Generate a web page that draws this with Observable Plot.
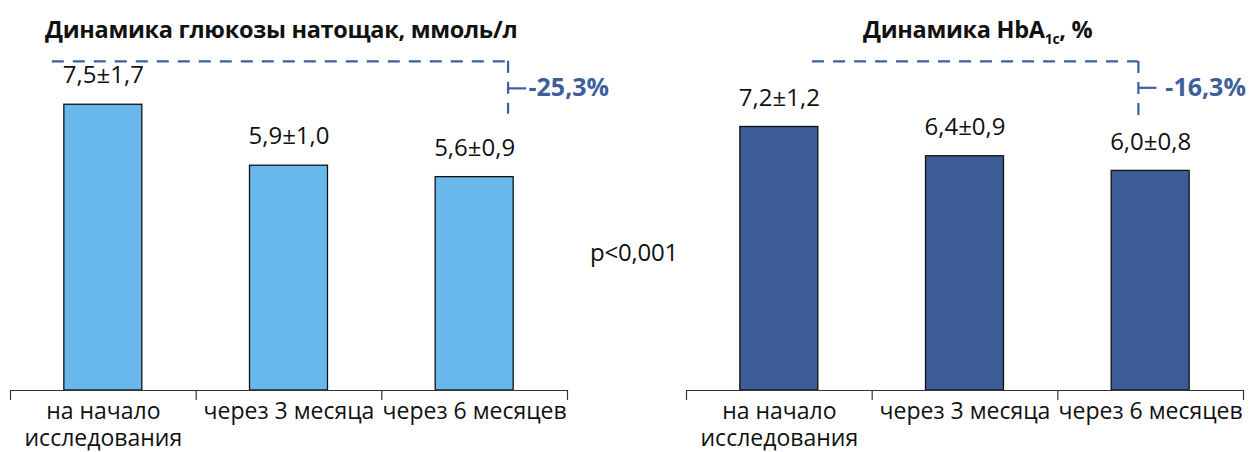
<!DOCTYPE html>
<html>
<head>
<meta charset="utf-8">
<script src="https://cdn.jsdelivr.net/npm/d3@7"></script>
<script src="https://cdn.jsdelivr.net/npm/@observablehq/plot@0.6"></script>
<style>
  html, body { margin: 0; padding: 0; background: #fff; }
  body { width: 1250px; height: 452px; position: relative; overflow: hidden; font-family: "Open Sans", "Noto Sans", sans-serif; color: #111; }
  .panel { position: absolute; top: 0; width: 625px; height: 452px; }
  .title { position: absolute; top: 12px; font-weight: 700; font-size: 23.5px; white-space: nowrap; letter-spacing: -0.3px; line-height: 34px; }
  .title sub { font-size: 14px; vertical-align: -6px; line-height: 0; }
  .pval { position: absolute; left: 590px; top: 235px; font-size: 24px; line-height: 34px; letter-spacing: -0.2px; }
</style>
</head>
<body>
<div id="left" class="panel" style="left:0px;"></div>
<div id="right" class="panel" style="left:625px;"></div>
<div class="title" style="left:45px;">Динамика глюкозы натощак, ммоль/л</div>
<div class="title" style="left:863px;">Динамика HbA<sub>1c</sub>, %</div>
<div class="pval">p&lt;0,001</div>
<script>
// ---- data ----
const categories = ["на начало\nисследования", "через 3 месяца", "через 6 месяцев"];
const glucoseValues = [7.5, 5.9, 5.6];
const glucoseSD = [1.7, 1.0, 0.9];
const hbaValues = [7.2, 6.4, 6.0];
const hbaSD = [1.2, 0.9, 0.8];
const glucoseChange = "-25,3%";
const hbaChange = "-16,3%";
// bracket annotation levels (value units) and category-index span
const glucoseBracket = {y: 8.64, yLow: 7.25, yMid: 7.93, x1: -0.275, x2: 2.18, labelGap: 0.11};
const hbaBracket = {y: 8.99, yLow: 7.5, yMid: 8.27, x1: 0.179, x2: 1.934, labelGap: 0.145};

const fmt = v => v.toFixed(1).replace(".", ",");
const FONT = "'Open Sans', 'Noto Sans', sans-serif";
const blue = "#3d5f9c";

function panel(values, sd, fill, bracket, change, opts) {
  const data = values.map((v, i) => ({i, cat: categories[i], v, label: `${fmt(v)}±${fmt(sd[i])}`}));
  const edges = d3.range(categories.length + 1).map(k => k - 0.5);
  const half = 0.21;
  return Plot.plot({
    width: 625,
    height: 452,
    marginLeft: opts.ml,
    marginRight: opts.mr,
    marginTop: opts.mt,
    marginBottom: 62,
    style: {fontFamily: FONT, fontSize: "23px", color: "#111", background: "transparent", overflow: "visible"},
    x: {type: "linear", domain: [-0.5, categories.length - 0.5], axis: null},
    y: {type: "linear", domain: [0, 10], axis: null},
    marks: [
      Plot.rect(data, {x1: d => d.i - half, x2: d => d.i + half, y1: 0, y2: "v", fill, stroke: "#111", strokeWidth: 1.3}),
      Plot.text(data, {x: "i", y: "v", text: "label", dy: -29, fontSize: 24, letterSpacing: -0.5, fill: "#111"}),
      Plot.ruleY([0], {x1: edges[0], x2: edges[edges.length - 1], stroke: "#333", strokeWidth: 1.2}),
      Plot.ruleX(edges, {x: d => d, y1: 0, y2: 0, insetBottom: -10, stroke: "#333", strokeWidth: 1.2}),
      Plot.text(data, {x: "i", y: 0, text: "cat", dy: 10, lineAnchor: "top", lineHeight: 1.15, fontSize: 23, letterSpacing: -0.2, fill: "#111"}),
      // bracket
      Plot.ruleY([bracket.y], {x1: bracket.x1, x2: bracket.x2, stroke: blue, strokeWidth: 2.2, strokeDasharray: "12,9"}),
      Plot.ruleX([bracket.x2], {y1: bracket.y, y2: bracket.yLow, stroke: blue, strokeWidth: 2.2, strokeDasharray: "12,9"}),
      Plot.ruleY([bracket.yMid], {x1: bracket.x2, x2: bracket.x2 + 0.1, stroke: blue, strokeWidth: 2.2}),
      Plot.text([change], {x: bracket.x2 + bracket.labelGap, y: bracket.yMid, text: d => d, textAnchor: "start", fontSize: 25, fontWeight: 700, letterSpacing: -0.3, fill: blue})
    ]
  });
}

document.getElementById("left").append(panel(glucoseValues, glucoseSD, "#69b8eb", glucoseBracket, glucoseChange, {ml: 10, mr: 58, mt: 9}));
document.getElementById("right").append(panel(hbaValues, hbaSD, "#3b5c94", hbaBracket, hbaChange, {ml: 61, mr: 7, mt: 24}));
</script>
</body>
</html>
